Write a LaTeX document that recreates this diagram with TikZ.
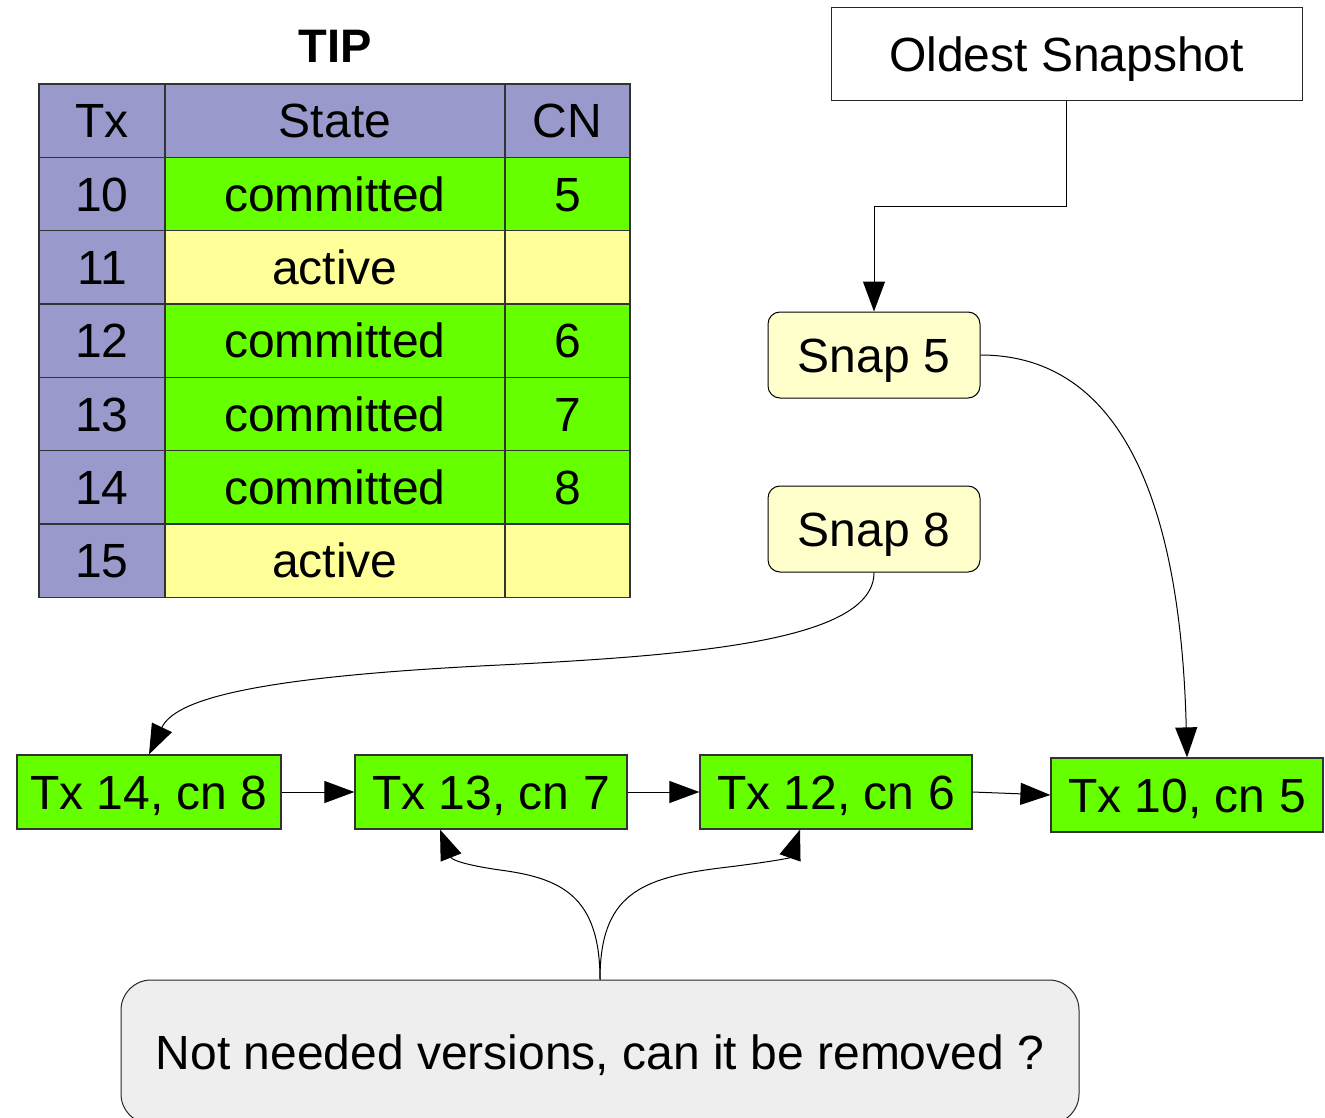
\documentclass[tikz,border=0pt]{standalone}
\usepackage{fontspec}
\setmainfont{Liberation Sans}
\usetikzlibrary{arrows.meta}
\definecolor{hdr}{HTML}{9999CC}
\definecolor{grn}{HTML}{66FF00}
\definecolor{ylw}{HTML}{FFFF99}
\definecolor{snapfill}{HTML}{FFFFCC}
\definecolor{notefill}{HTML}{EEEEEE}
\definecolor{edgegray}{HTML}{333333}
\begin{document}
\begin{tikzpicture}[x=1pt,y=-1pt,
  txt/.style={font=\fontsize{48}{57}\selectfont, text height=34.4pt, text depth=0pt, inner sep=0pt},
  cell/.style={txt, draw=edgegray, line width=1.2pt, minimum height=73.33pt},
  txbox/.style={txt, draw=edgegray, fill=grn, line width=1.2pt, minimum width=272pt, minimum height=74pt},
  snapbox/.style={txt, draw=black, fill=snapfill, line width=1pt, rounded corners=12pt, minimum width=212pt, minimum height=86pt},
  conn/.style={line width=1pt, -{Triangle[length=30pt,width=22pt]}}]
\useasboundingbox (0,0) rectangle (1325,1118);
\clip (0,0) rectangle (1325,1118);

% title
\node[txt, font=\bfseries\fontsize{47}{56}\selectfont] (tip) at (335,45) {TIP};

% table header
\node[cell, fill=hdr, minimum width=126pt] (htx) at (102,120.67) {Tx};
\node[cell, fill=hdr, minimum width=340pt] (hst) at (335,120.67) {State};
\node[cell, fill=hdr, minimum width=125pt] (hcn) at (567.5,120.67) {CN};
% table rows
\foreach \i/\t/\s/\c/\col in {1/10/committed/5/grn, 2/11/active/{}/ylw, 3/12/committed/6/grn, 4/13/committed/7/grn, 5/14/committed/8/grn, 6/15/active/{}/ylw}{
  \pgfmathsetmacro{\yy}{120.67+73.33*\i}
  \node[cell, fill=hdr, minimum width=126pt] (tx\i) at (102,\yy) {\t};
  \node[cell, fill=\col, minimum width=340pt] (st\i) at (335,\yy) {\s};
  \node[cell, fill=\col, minimum width=125pt] (cn\i) at (567.5,\yy) {\c};
}

% snapshots
\node[txt, draw=black!85, fill=white, line width=1pt, minimum width=471pt, minimum height=93pt] (old) at (1066.5,54.5) {Oldest Snapshot};
\node[snapbox] (snap5) at (874,355) {Snap 5};
\node[snapbox] (snap8) at (874,529) {Snap 8};

% version chain
\node[txbox, minimum width=264pt] (n14) at (149,792) {Tx 14, cn 8};
\node[txbox] (n13) at (491,792) {Tx 13, cn 7};
\node[txbox] (n12) at (836,792) {Tx 12, cn 6};
\node[txbox] (n10) at (1187,795) {Tx 10, cn 5};

% note
\node[txt, draw=black!85, fill=notefill, line width=1pt, rounded corners=30pt, minimum width=958pt, minimum height=144pt] (note) at (600,1052) {Not needed versions, can it be removed ?};

% connectors
\coordinate (bend) at (874,207);
\draw[conn] (old.south) |- (bend) -- (snap5.north);
\draw[conn] (snap5.east) .. controls (1110,355) and (1180,480) .. (n10.north);
\draw[conn] (snap8.south) .. controls (874,640) and (700,655) .. (500,665) .. controls (250,677) and (175,700) .. (n14.north);
\draw[conn] (n14.east) -- (n13.west);
\draw[conn] (n13.east) -- (n12.west);
\draw[conn] (n12.east) -- (n10.west);
\draw[conn] (note.north) .. controls (600,895) and (560,878) .. (500,870) .. controls (465,865) and (452,860) .. ([xshift=-51pt]n13.south);
\draw[conn] (note.north) .. controls (600,895) and (640,878) .. (720,868) .. controls (770,862) and (790,858) .. ([xshift=-36pt]n12.south);
\end{tikzpicture}
\end{document}
